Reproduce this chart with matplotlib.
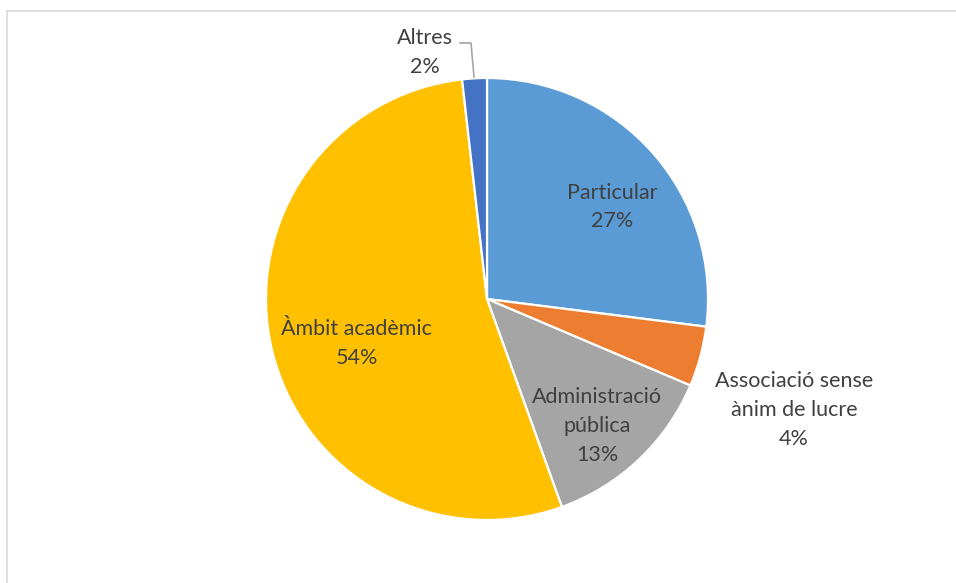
import matplotlib.pyplot as plt
from matplotlib.lines import Line2D

# Data
categories = ['Particular', 'Associació sense\nànim de lucre', 'Administració\npública',
              'Àmbit acadèmic', 'Altres']
shares = [27.0, 4.4, 13.1, 53.7, 1.8]
pct_labels = ['27%', '4%', '13%', '54%', '2%']
colors = ['#5B9BD5', '#ED7D31', '#A5A5A5', '#FFC000', '#4472C4']

# label positions in pie units (radius = 1)
label_pos = [(0.566, 0.416), (1.389, -0.502), (0.498, -0.575), (-0.59, -0.20), (-0.28, 1.115)]

plt.rcParams['font.family'] = ['Lato', 'DejaVu Sans']

fig = plt.figure(figsize=(9.56, 5.83), dpi=100)
W, H = 956, 583
cx, cy, r = 487, 299, 221
ax = fig.add_axes([(cx - r) / W, (H - cy - r) / H, 2 * r / W, 2 * r / H])

ax.pie(shares, colors=colors, startangle=90, counterclock=False, radius=1,
       wedgeprops={'edgecolor': 'white', 'linewidth': 1.6})
ax.set_xlim(-1, 1)
ax.set_ylim(-1, 1)
ax.set_aspect('equal')
ax.axis('off')

for name, pct, (x, y) in zip(categories, pct_labels, label_pos):
    ax.text(x, y, name + '\n' + pct, ha='center', va='center', fontsize=15.5,
            color='#404040', linespacing=1.55, clip_on=False)

# leader line for "Altres"
lx = [(460 - cx) / r, (471 - cx) / r, (474 - cx) / r]
ly = [(cy - 43) / r, (cy - 43) / r, (cy - 77) / r]
ax.plot(lx, ly, color='#A6A6A6', linewidth=1.2, clip_on=False)

# chart frame (top and left edges visible)
fig.add_artist(Line2D([7 / W, 1], [1 - 11 / H, 1 - 11 / H], color='#D9D9D9', linewidth=1.2))
fig.add_artist(Line2D([7 / W, 7 / W], [0, 1 - 11 / H], color='#D9D9D9', linewidth=1.2))

fig.savefig('out.png', dpi=100, facecolor='white')
